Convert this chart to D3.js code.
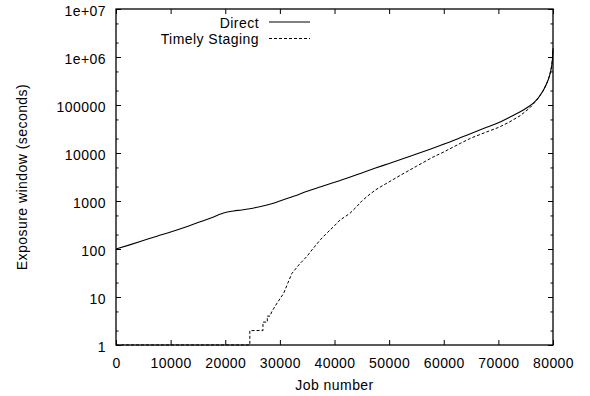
<!DOCTYPE html>
<html>
<head>
<meta charset="utf-8">
<script src="https://cdn.jsdelivr.net/npm/d3@7"></script>
<style>
  html, body { margin: 0; padding: 0; background: #fff; }
  svg { display: block; font-family: "Liberation Sans", Arial, Helvetica, sans-serif; letter-spacing: 0.45px; }
  .tick line { stroke: #000; stroke-width: 1; }
  .tick text { font-size: 14px; fill: #000; }
</style>
</head>
<body>
<svg id="chart" width="590" height="396"></svg>
<script>
// Values
const seriesNames = ['Direct', 'Timely Staging'];

const directJobs = [0, 2500, 5000, 7500, 10000, 12500, 15000, 17500, 20000, 21500, 23000, 24500,
  26500, 28500, 30000, 32500, 35000, 37500, 40000, 42500, 45000, 47500, 50000, 52500, 55000,
  57500, 60000, 62500, 65000, 67500, 70000, 72000, 74000, 75500, 76500, 77500, 78300, 78900,
  79400, 79700, 79900, 80000];
const directWindow = [100, 122, 150, 185, 225, 280, 355, 450, 575, 620, 650, 690,
  770, 880, 1000, 1250, 1600, 1980, 2450, 3050, 3850, 4850, 6050, 7600, 9500,
  12000, 15300, 19600, 25500, 33000, 42500, 55000, 72000, 92000, 112000, 150000, 210000, 290000,
  420000, 600000, 900000, 1500000];

const stagingJobs = [0, 24500, 24500, 26900, 26900, 27700, 27700, 28200, 28500, 29500, 30700,
  31500, 32200, 33000, 33700, 34900, 36000, 37500, 38700, 39800, 41000, 42800, 44000, 45000,
  46000, 47500, 49000, 50500, 52000, 55000, 58000, 60000, 63000, 65000, 67500, 70000, 72000,
  74000, 75800, 77000, 78300, 78900, 79400, 79700, 79900, 80000];
const stagingWindow = [1, 1, 2, 2, 3, 3, 4, 4, 4.9, 7.5, 12,
  20, 31, 40, 50, 69, 100, 160, 220, 290, 400, 550, 750, 1000,
  1250, 1700, 2150, 2700, 3400, 5300, 8200, 10500, 15800, 20500, 26500, 34000, 44000,
  60000, 88000, 125000, 205000, 290000, 420000, 600000, 900000, 1500000];

const xTicks = [0, 10000, 20000, 30000, 40000, 50000, 60000, 70000, 80000];
const yTicks = [1, 10, 100, 1000, 10000, 100000, 1000000, 10000000];
const yTickLabels = ['1', '10', '100', '1000', '10000', '100000', '1e+06', '1e+07'];
const yMinorTicks = [2, 5, 20, 50, 200, 500, 2000, 5000, 2e4, 5e4, 2e5, 5e5, 2e6, 5e6];

const svg = d3.select('#chart');
const plot = { left: 116, right: 553, top: 9, bottom: 345 };

const x = d3.scaleLinear().domain([0, 80000]).range([plot.left, plot.right]);
const y = d3.scaleLog().domain([1, 1e7]).range([plot.bottom, plot.top]);

svg.append('rect')
  .attr('width', 590).attr('height', 396)
  .attr('fill', '#fff');

// Axes: gnuplot style, ticks point inward and are mirrored on the opposite side
svg.append('g')
  .attr('transform', `translate(0,${plot.bottom})`)
  .call(d3.axisBottom(x).tickValues(xTicks).tickFormat(d3.format('d'))
    .tickSizeInner(-5).tickSizeOuter(0).tickPadding(13));

svg.append('g')
  .attr('transform', `translate(0,${plot.top})`)
  .call(d3.axisTop(x).tickValues(xTicks).tickFormat('')
    .tickSizeInner(-5).tickSizeOuter(0));

const left = svg.append('g')
  .attr('transform', `translate(${plot.left},0)`)
  .call(d3.axisLeft(y).tickValues(yTicks).tickFormat((d, i) => yTickLabels[i])
    .tickSizeInner(-5).tickSizeOuter(0).tickPadding(10));
left.selectAll('.tick text').attr('dy', '0.43em');

svg.append('g')
  .attr('transform', `translate(${plot.left},0)`)
  .call(d3.axisLeft(y).tickValues(yMinorTicks).tickFormat('')
    .tickSizeInner(-2.5).tickSizeOuter(0));

svg.append('g')
  .attr('transform', `translate(${plot.right},0)`)
  .call(d3.axisRight(y).tickValues(yTicks).tickFormat('')
    .tickSizeInner(-5).tickSizeOuter(0));

svg.append('g')
  .attr('transform', `translate(${plot.right},0)`)
  .call(d3.axisRight(y).tickValues(yMinorTicks).tickFormat('')
    .tickSizeInner(-2.5).tickSizeOuter(0));

svg.selectAll('.domain').remove();
svg.selectAll('.tick text').attr('font-family', null).attr('font-size', null);

// Frame
svg.append('rect')
  .attr('x', plot.left).attr('y', plot.top)
  .attr('width', plot.right - plot.left).attr('height', plot.bottom - plot.top)
  .attr('fill', 'none').attr('stroke', '#000').attr('stroke-width', 1.3);

// Axis titles
svg.append('text')
  .attr('x', (plot.left + plot.right) / 2).attr('y', 390)
  .attr('text-anchor', 'middle').attr('font-size', 14)
  .text('Job number');

svg.append('text')
  .attr('transform', `translate(27,${(plot.top + plot.bottom) / 2}) rotate(-90)`)
  .attr('text-anchor', 'middle').attr('font-size', 14)
  .text('Exposure window (seconds)');

// Curves
const line = d3.line()
  .x(d => x(d[0]))
  .y(d => y(d[1]));

const directData = d3.zip(directJobs, directWindow);
const stagingData = d3.zip(stagingJobs, stagingWindow);

svg.append('path')
  .datum(stagingData)
  .attr('d', line)
  .attr('fill', 'none').attr('stroke', '#000').attr('stroke-width', 1)
  .attr('stroke-dasharray', '3,2');

svg.append('path')
  .datum(directData)
  .attr('d', line.curve(d3.curveMonotoneX))
  .attr('fill', 'none').attr('stroke', '#000').attr('stroke-width', 1.1);

// Legend (top left, labels right-aligned)
const legend = svg.append('g');
seriesNames.forEach((name, i) => {
  const ly = 22 + i * 16.5;
  legend.append('text')
    .attr('x', 259).attr('y', ly + 5.5)
    .attr('text-anchor', 'end').attr('font-size', 14)
    .text(name);
  legend.append('line')
    .attr('x1', 269).attr('x2', 310)
    .attr('y1', ly).attr('y2', ly)
    .attr('stroke', '#000').attr('stroke-width', 1)
    .attr('stroke-dasharray', i === 1 ? '3,2' : null);
});
</script>
</body>
</html>
